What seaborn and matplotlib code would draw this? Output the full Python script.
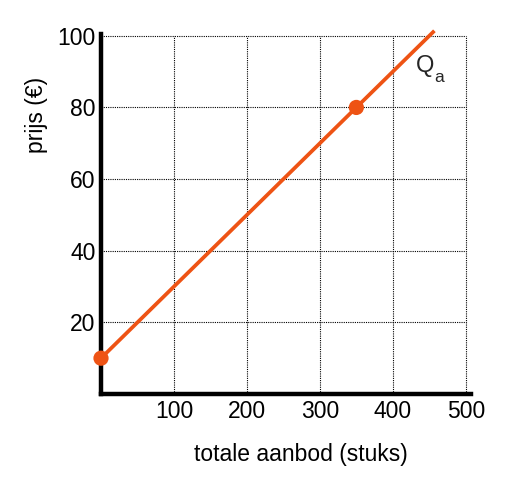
import matplotlib
matplotlib.use("Agg")
import matplotlib.pyplot as plt
import seaborn as sns
import pandas as pd

sns.set_theme(style="white")
plt.rcParams['font.family'] = ['Liberation Sans', 'DejaVu Sans']

# aanbodlijn Qa
line_x = [0, 457]
line_y = [10, 101.4]
# gemarkeerde punten
point_x = [0, 350]
point_y = [10, 80]

x_ticks = [100, 200, 300, 400, 500]
y_ticks = [20, 40, 60, 80, 100]

orange = '#EE5314'

fig = plt.figure(figsize=(5.06, 4.88), dpi=100)
ax = fig.add_axes([0.1996, 0.1926, 0.731, 0.7377])

ax.hlines(y_ticks, 0, 500, colors='black', linestyles=(0, (1, 1)), linewidth=0.8, zorder=1)
ax.vlines(x_ticks, 0, 100, colors='black', linestyles=(0, (1, 1)), linewidth=0.8, zorder=1)

line_df = pd.DataFrame({'x': line_x, 'y': line_y})
sns.lineplot(data=line_df, x='x', y='y', ax=ax, color=orange, linewidth=2.7,
             solid_capstyle='butt', zorder=3, clip_on=False)
pts_df = pd.DataFrame({'x': point_x, 'y': point_y})
sns.scatterplot(data=pts_df, x='x', y='y', ax=ax, color=orange, s=120,
                edgecolor='none', zorder=4, clip_on=False)

ax.text(432, 91.5, 'Q', fontsize=17, ha='left', va='center')
ax.text(457, 88.3, 'a', fontsize=12.5, ha='left', va='center')

ax.set_xlim(0, 507)
ax.set_ylim(0, 100.5)
ax.set_xticks(x_ticks)
ax.set_yticks(y_ticks)
ax.tick_params(axis='both', length=0, labelsize=16.5, colors='black', pad=4)

for s in ['top', 'right']:
    ax.spines[s].set_visible(False)
for s in ['left', 'bottom']:
    ax.spines[s].set_linewidth(3.2)
    ax.spines[s].set_color('black')

ax.set_xlabel('totale aanbod (stuks)', fontsize=16.5, color='black')
ax.xaxis.set_label_coords(0.54, -0.135)
ax.set_ylabel('prijs (€)', fontsize=16.5, color='black')
ax.yaxis.set_label_coords(-0.143, 0.775)

fig.savefig('out.png', dpi=100)
